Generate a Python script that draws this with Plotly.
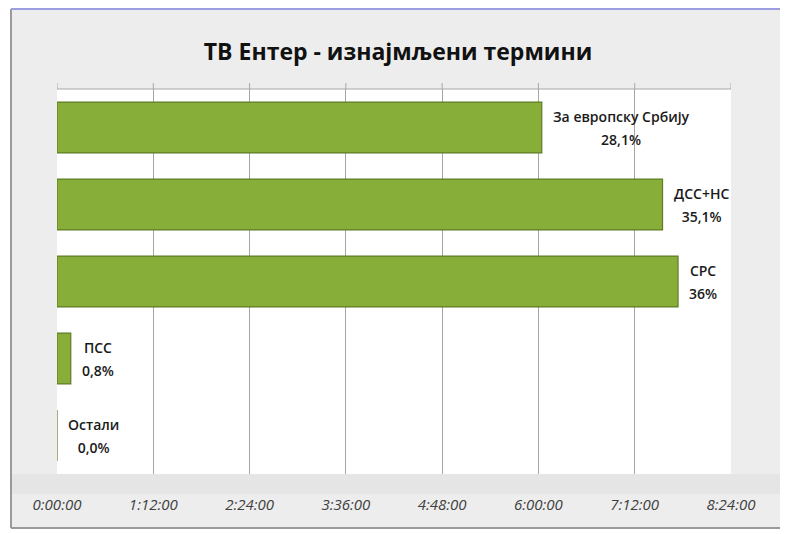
import plotly.graph_objects as go

# ---- data ----
parties = ["За европску Србију", "ДСС+НС", "СРС", "ПСС", "Остали"]
minutes = [362.5, 452.8, 464.4, 10.3, 0.0]          # rented airtime, minutes
shares = ["28,1%", "35,1%", "36%", "0,8%", "0,0%"]
tick_labels = ["0:00:00", "1:12:00", "2:24:00", "3:36:00",
               "4:48:00", "6:00:00", "7:12:00", "8:24:00"]
title_text = "ТВ Ентер - изнајмљени термини"


def to_minutes(s):
    h, m, sec = (int(v) for v in s.split(":"))
    return h * 60 + m + sec / 60


tick_vals = [to_minutes(t) for t in tick_labels]
labels = [f"<span style='font-size:14px'>{p}</span><br><span style='font-size:14px'>{s}</span>"
          for p, s in zip(parties, shares)]

# figure is placed by the page at (8, 8)
W, H = 780, 526
L, R, T, B = 49, 57, 81, 60

fig = go.Figure()
fig.add_trace(go.Bar(
    y=parties,
    x=minutes,
    orientation="h",
    marker=dict(color="#88ae3a", line=dict(color="#5e7d22", width=1.2)),
    hoverinfo="skip",
))

# data labels to the right of each bar, centred lines
for p, v, lab in zip(parties, minutes, labels):
    fig.add_annotation(x=v, y=p, xref="x", yref="y", text=lab, showarrow=False,
                       xanchor="left", yanchor="middle", xshift=9, yshift=0, align="center",
                       font=dict(family="Open Sans", size=18, color="#1a1a1a", weight=600))

pw, ph = W - L - R, H - T - B
def px(x):
    return (x - L) / pw
def py(y):
    return (H - B - y) / ph

shapes = [
    # subtle darker band under the plot area
    dict(type="rect", xref="paper", yref="paper", x0=px(3), x1=px(W), y0=py(486), y1=py(466),
         fillcolor="#e5e5e5", line=dict(width=0), layer="below"),
    # white margins outside the chart frame
    dict(type="rect", xref="paper", yref="paper", x0=px(-2), x1=px(3), y0=py(H + 2), y1=py(-2),
         fillcolor="white", line=dict(width=0), layer="above"),
    dict(type="rect", xref="paper", yref="paper", x0=px(-2), x1=px(W + 2), y0=py(H + 2), y1=py(520),
         fillcolor="white", line=dict(width=0), layer="above"),
    dict(type="rect", xref="paper", yref="paper", x0=px(-2), x1=px(W + 2), y0=py(1), y1=py(-2),
         fillcolor="white", line=dict(width=0), layer="above"),
    # frame edges
    dict(type="line", xref="paper", yref="paper", x0=px(3), x1=px(3), y0=py(520), y1=py(1),
         line=dict(color="#9a9a9a", width=2), layer="above"),
    dict(type="line", xref="paper", yref="paper", x0=px(3), x1=px(W), y0=py(520), y1=py(520),
         line=dict(color="#9a9a9a", width=2), layer="above"),
    dict(type="line", xref="paper", yref="paper", x0=px(3), x1=px(W), y0=py(1), y1=py(1),
         line=dict(color="#9c9ce0", width=2), layer="above"),
    # top line of plot area
    dict(type="line", xref="paper", yref="paper", x0=0, x1=1, y0=1, y1=1,
         line=dict(color="#a6a6a6", width=1), layer="above"),
]
# small tick marks above the plot area
for tv in tick_vals:
    shapes.append(dict(type="line", xref="x", yref="paper", x0=tv, x1=tv, y0=1, y1=1 + 6 / ph,
                       line=dict(color="#a6a6a6", width=1), layer="above"))

fig.update_layout(
    width=W, height=H,
    margin=dict(l=L, r=R, t=T, b=B),
    paper_bgcolor="#ededed",
    plot_bgcolor="white",
    showlegend=False,
    bargap=0.34,
    title=dict(text=title_text, x=0.5, xanchor="center", y=1 - 44 / H, yanchor="middle",
               font=dict(family="Open Sans", size=23, color="#111111", weight=700)),
    xaxis=dict(range=[0, tick_vals[-1]], tickvals=tick_vals, ticktext=tick_labels,
               showgrid=True, gridcolor="#a6a6a6", gridwidth=1, zeroline=False,
               showline=False, ticks="", ticklabelstandoff=20,
               tickfont=dict(family="Open Sans", size=15, color="#404040", style="italic")),
    yaxis=dict(autorange="reversed", showticklabels=False, showgrid=False,
               zeroline=False, showline=False, ticks=""),
    shapes=shapes,
)

fig.write_html("out.html")
